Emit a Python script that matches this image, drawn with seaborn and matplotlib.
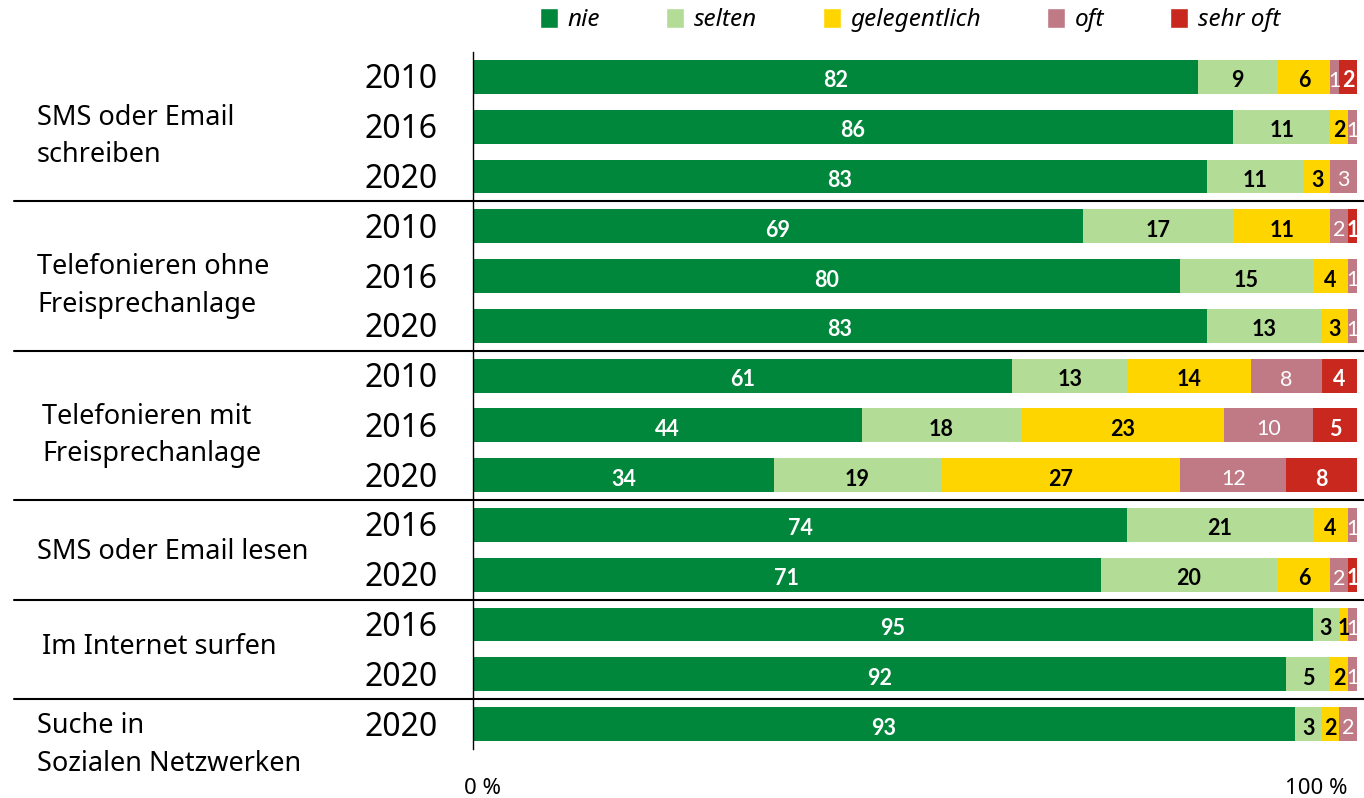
import numpy as np
import pandas as pd
import matplotlib
matplotlib.use("Agg")
import matplotlib.pyplot as plt
import seaborn as sns
from matplotlib.patches import Patch

# Data
years = ["2010", "2016", "2020",
         "2010", "2016", "2020",
         "2010", "2016", "2020",
         "2016", "2020",
         "2016", "2020",
         "2020"]
nie = [82, 86, 83, 69, 80, 83, 61, 44, 34, 74, 71, 95, 92, 93]
selten = [9, 11, 11, 17, 15, 13, 13, 18, 19, 21, 20, 3, 5, 3]
gelegentlich = [6, 2, 3, 11, 4, 3, 14, 23, 27, 4, 6, 1, 2, 2]
oft = [1, 1, 3, 2, 1, 1, 8, 10, 12, 1, 2, 1, 1, 2]
sehr_oft = [2, 0, 0, 1, 0, 0, 4, 5, 8, 0, 1, 0, 0, 0]

categories = ["nie", "selten", "gelegentlich", "oft", "sehr oft"]
colors = ["#00873C", "#B3DC96", "#FFD500", "#BF7A86", "#C8281E"]
text_colors = ["white", "black", "black", "white", "white"]

groups = ["SMS oder Email\nschreiben", "Telefonieren ohne\nFreisprechanlage",
          "Telefonieren mit\nFreisprechanlage", "SMS oder Email lesen",
          "Im Internet surfen", "Suche in\nSozialen Netzwerken"]
group_y = [1.2, 4.2, 7.2, 9.55, 11.45, 13.42]
group_x = [37, 37, 42, 37, 42, 37]

series = [nie, selten, gelegentlich, oft, sehr_oft]
row_ids = [f"r{i}" for i in range(len(years))]

df = pd.DataFrame({"row": row_ids})
for cat, vals in zip(categories, series):
    df[cat] = vals
cum = df[categories].cumsum(axis=1)

sns.set_style("white")
plt.rcParams["font.family"] = ["Noto Sans", "DejaVu Sans"]
plt.rcParams["text.color"] = "black"

fig = plt.figure(figsize=(13.64, 7.98), dpi=100)
W, H = 1364, 798
ax = fig.add_axes([473 / W, 1 - 749 / H, (1357 - 473) / W, (749 - 52) / H])

# stacked bars: draw cumulative totals from the outermost segment inward
for i in range(len(categories) - 1, -1, -1):
    sns.barplot(data=cum.assign(row=row_ids), x=categories[i], y="row",
                order=row_ids, orient="h", color=colors[i], width=0.68,
                saturation=1, ax=ax, linewidth=0)

for r in range(len(years)):
    left = 0
    for i, cat in enumerate(categories):
        v = df.loc[r, cat]
        if v > 0:
            ax.text(left + v / 2, r + 0.08, str(v), ha="center", va="center",
                    color=text_colors[i], fontsize=15.5,
                    family=["Lato", "DejaVu Sans"],
                    fontweight="normal" if cat == "oft" else "bold")
        left += v

ax.set_xlim(0, 100)
ax.set_ylim(len(years) - 0.5, -0.5)
ax.set_xlabel("")
ax.set_ylabel("")
ax.set_yticks([])
ax.set_xticks([])
for s in ["top", "right", "bottom"]:
    ax.spines[s].set_visible(False)
ax.spines["left"].set_color("black")
ax.spines["left"].set_linewidth(1)

# year labels
for r, y in enumerate(years):
    ax.text(-4, r + 0.06, y, ha="right", va="center", fontsize=23,
            clip_on=False)

# group labels and separators
to_ax_x = lambda px: (px - 473) / (1357 - 473) * 100
for g, gy, gx in zip(groups, group_y, group_x):
    ax.text(to_ax_x(gx), gy, g, ha="left", va="center",
            fontsize=19.5, linespacing=1.45, clip_on=False)
for sep in [2.5, 5.5, 8.5, 10.5, 12.5]:
    ax.plot([to_ax_x(14), to_ax_x(1364)], [sep, sep], color="black",
            lw=1.5, clip_on=False)

# x tick labels
fig.text(483 / W, 1 - 788 / H, "0 %", ha="center", va="center", fontsize=16)
fig.text(1316 / W, 1 - 788 / H, "100 %", ha="center", va="center", fontsize=16)

handles = [Patch(facecolor=c, label=l) for c, l in zip(colors, categories)]
leg = fig.legend(handles=handles, loc="center", ncol=5,
                 bbox_to_anchor=(910 / W, 1 - 20 / H), frameon=False,
                 handlelength=0.75, handleheight=0.9, handletextpad=0.4,
                 columnspacing=2.7, prop={"style": "italic", "size": 17.5})

fig.savefig("out.png", dpi=100)
